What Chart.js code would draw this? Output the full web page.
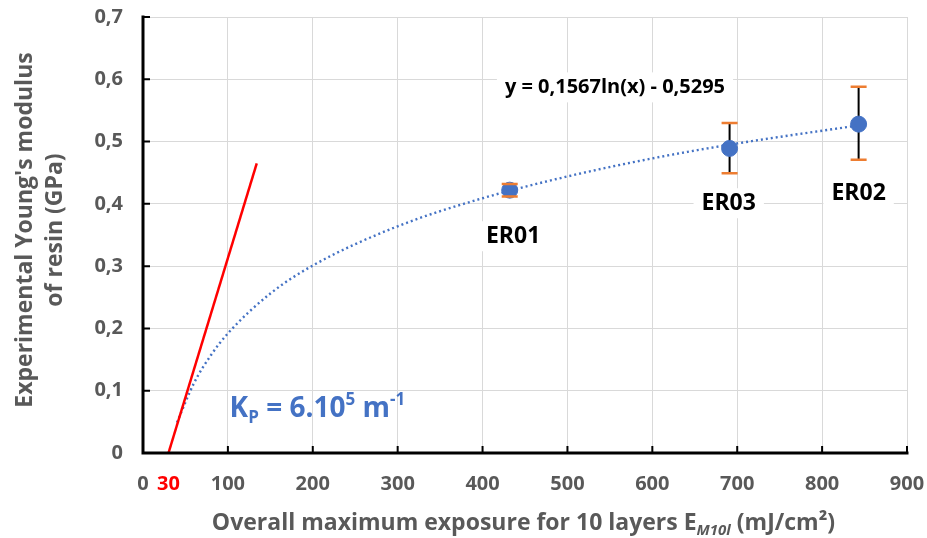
<!DOCTYPE html>
<html>
<head>
    <title>Young's modulus vs exposure</title>
    <script src="https://cdn.jsdelivr.net/npm/chart.js@4.4.1/dist/chart.umd.min.js"></script>
    <style>
        html, body { margin: 0; padding: 0; background: #fff; }
        #wrap { width: 927px; height: 538px; }
    </style>
</head>
<body>
    <div id="wrap"><canvas id="modulusChart"></canvas></div>

    <script>
        // measured samples
        const samples = ['ER01', 'ER03', 'ER02'];
        const exposure = [432, 691, 843];
        const modulus = [0.422, 0.489, 0.528];
        const errLow = [0.412, 0.449, 0.471];
        const errHigh = [0.432, 0.530, 0.588];

        // log trendline
        const trendX = [40, 60, 80, 100, 150, 200, 300, 400, 500, 600, 700, 843];
        const trendY = [0.049, 0.112, 0.157, 0.192, 0.256, 0.301, 0.364, 0.409, 0.444, 0.473, 0.497, 0.526];

        // red tangent at the origin of the curve
        const tangentX = [30, 134];
        const tangentY = [0, 0.465];

        const xTicks = [0, 100, 200, 300, 400, 500, 600, 700, 800, 900];
        const yTicks = [0, 0.1, 0.2, 0.3, 0.4, 0.5, 0.6, 0.7];

        const BLUE = '#4472C4';
        const GREY = '#595959';
        const FONT = '"Open Sans", sans-serif';

        const pts = (xs, ys) => xs.map((x, i) => ({ x: x, y: ys[i] }));

        function boxText(ctx, text, cx, cy, font) {
            ctx.font = font;
            const w = ctx.measureText(text).width;
            ctx.fillStyle = '#fff';
            ctx.fillRect(cx - w / 2 - 8, cy - 15, w + 16, 30);
            ctx.fillStyle = '#000';
            ctx.textAlign = 'center';
            ctx.textBaseline = 'middle';
            ctx.fillText(text, cx, cy);
        }

        // draws pieces of text one after another, with sub/superscripts
        function richText(ctx, parts, x, y) {
            ctx.textAlign = 'left';
            ctx.textBaseline = 'alphabetic';
            parts.forEach(p => {
                ctx.font = p.font;
                ctx.fillStyle = p.color;
                ctx.fillText(p.t, x, y + (p.dy || 0));
                x += ctx.measureText(p.t).width;
            });
            return x;
        }

        function partsWidth(ctx, parts) {
            let w = 0;
            parts.forEach(p => { ctx.font = p.font; w += ctx.measureText(p.t).width; });
            return w;
        }

        function barEnds(chart, i) {
            const xs = chart.scales.x, ys = chart.scales.y;
            return {
                px: xs.getPixelForValue(exposure[i]),
                top: ys.getPixelForValue(errHigh[i]),
                bot: ys.getPixelForValue(errLow[i])
            };
        }

        const errorBars = {
            id: 'errorBars',
            // black stems under the markers
            beforeDatasetsDraw(chart) {
                const ctx = chart.ctx;
                ctx.save();
                ctx.strokeStyle = '#000';
                ctx.lineWidth = 2;
                exposure.forEach((e, i) => {
                    const b = barEnds(chart, i);
                    ctx.beginPath();
                    ctx.moveTo(b.px, b.top); ctx.lineTo(b.px, b.bot);
                    ctx.stroke();
                });
                ctx.restore();
            },
            // orange caps above them
            afterDatasetsDraw(chart) {
                const ctx = chart.ctx;
                ctx.save();
                ctx.strokeStyle = '#ED7D31';
                ctx.lineWidth = 2.5;
                exposure.forEach((e, i) => {
                    const b = barEnds(chart, i);
                    ctx.beginPath();
                    ctx.moveTo(b.px - 8, b.top); ctx.lineTo(b.px + 8, b.top);
                    ctx.moveTo(b.px - 8, b.bot); ctx.lineTo(b.px + 8, b.bot);
                    ctx.stroke();
                });
                ctx.restore();
            }
        };

        const overlay = {
            id: 'overlay',
            afterDraw(chart) {
                const ctx = chart.ctx, xs = chart.scales.x, ys = chart.scales.y;
                const a = chart.chartArea;
                ctx.save();

                // axes with inward ticks
                ctx.strokeStyle = '#000';
                ctx.lineWidth = 3;
                ctx.lineCap = 'square';
                ctx.beginPath();
                ctx.moveTo(a.left, a.top); ctx.lineTo(a.left, a.bottom); ctx.lineTo(a.right, a.bottom);
                ctx.stroke();
                ctx.lineWidth = 2;
                ctx.lineCap = 'butt';
                ctx.beginPath();
                yTicks.forEach(v => {
                    const py = ys.getPixelForValue(v);
                    ctx.moveTo(a.left, py); ctx.lineTo(a.left + 7, py);
                });
                xTicks.forEach(v => {
                    const px = xs.getPixelForValue(v);
                    ctx.moveTo(px, a.bottom); ctx.lineTo(px, a.bottom - 7);
                });
                ctx.stroke();

                // red "30" on the x axis
                ctx.font = 'bold 20px ' + FONT;
                ctx.fillStyle = '#FF0000';
                ctx.textAlign = 'center';
                ctx.textBaseline = 'middle';
                ctx.fillText('30', xs.getPixelForValue(30), a.bottom + 31);

                // equation and sample labels
                boxText(ctx, 'y = 0,1567ln(x) - 0,5295', xs.getPixelForValue(556), ys.getPixelForValue(0.587), 'bold 20px ' + FONT);
                const labelPos = [[436, 0.348], [690, 0.401], [843, 0.417]];
                samples.forEach((s, i) => {
                    boxText(ctx, s, xs.getPixelForValue(labelPos[i][0]), ys.getPixelForValue(labelPos[i][1]), 'bold 23px ' + FONT);
                });

                // Kp annotation
                const big = 'bold 28px ' + FONT, small = 'bold 17px ' + FONT;
                richText(ctx, [
                    { t: 'K', font: big, color: BLUE },
                    { t: 'P', font: small, color: BLUE, dy: 6 },
                    { t: ' = 6.10', font: big, color: BLUE },
                    { t: '5', font: small, color: BLUE, dy: -12 },
                    { t: ' m', font: big, color: BLUE },
                    { t: '-1', font: small, color: BLUE, dy: -12 }
                ], xs.getPixelForValue(102), ys.getPixelForValue(0.058));

                // x axis title with subscript
                const tf = 'bold 23px ' + FONT, sf = 'italic bold 15px ' + FONT;
                const title = [
                    { t: 'Overall maximum exposure for 10 layers E', font: tf, color: GREY },
                    { t: 'M10l', font: sf, color: GREY, dy: 5 },
                    { t: ' (mJ/cm²)', font: tf, color: GREY }
                ];
                const tw = partsWidth(ctx, title);
                richText(ctx, title, 523.5 - tw / 2, 530);

                // y axis title, two lines rotated
                ctx.save();
                ctx.translate(0, 230);
                ctx.rotate(-Math.PI / 2);
                ctx.font = 'bold 23px ' + FONT;
                ctx.fillStyle = GREY;
                ctx.textAlign = 'center';
                ctx.textBaseline = 'middle';
                ctx.fillText("Experimental Young's modulus", 0, 25);
                ctx.fillText('of resin (GPa)', 0, 55);
                ctx.restore();

                ctx.restore();
            }
        };

        const ctx = document.getElementById('modulusChart').getContext('2d');
        const chart = new Chart(ctx, {
            type: 'scatter',
            data: {
                datasets: [
                    {
                        label: 'Tangent',
                        data: pts(tangentX, tangentY),
                        showLine: true,
                        borderColor: '#FF0000',
                        borderWidth: 2.5,
                        pointRadius: 0
                    },
                    {
                        label: 'Trend',
                        data: pts(trendX, trendY),
                        showLine: true,
                        borderColor: BLUE,
                        borderWidth: 2.4,
                        borderDash: [2, 3],
                        cubicInterpolationMode: 'monotone',
                        pointRadius: 0
                    },
                    {
                        label: 'Samples',
                        data: pts(exposure, modulus),
                        backgroundColor: BLUE,
                        borderColor: BLUE,
                        pointRadius: 8
                    }
                ]
            },
            options: {
                responsive: true,
                maintainAspectRatio: false,
                animation: false,
                layout: { padding: { top: 17, right: 20, left: 0, bottom: 0 } },
                plugins: {
                    legend: { display: false },
                    tooltip: { enabled: false }
                },
                scales: {
                    x: {
                        type: 'linear',
                        min: 0, max: 900,
                        afterFit: s => { s.height = 85; s.paddingLeft = 0; s.paddingRight = 0; },
                        afterBuildTicks: s => { s.ticks = xTicks.map(v => ({ value: v })); },
                        grid: { color: '#d9d9d9', lineWidth: 1, drawTicks: false },
                        border: { display: false },
                        ticks: {
                            padding: 19,
                            color: GREY,
                            font: { family: FONT, size: 20, weight: 'bold' },
                            maxRotation: 0
                        }
                    },
                    y: {
                        min: 0, max: 0.7,
                        afterFit: s => { s.width = 143; s.paddingTop = 0; s.paddingBottom = 0; },
                        afterBuildTicks: s => { s.ticks = yTicks.map(v => ({ value: v })); },
                        grid: { color: '#d9d9d9', lineWidth: 1, drawTicks: false },
                        border: { display: false },
                        ticks: {
                            padding: 20,
                            color: GREY,
                            font: { family: FONT, size: 20, weight: 'bold' },
                            callback: v => v === 0 ? '0' : v.toFixed(1).replace('.', ',')
                        }
                    }
                }
            },
            plugins: [errorBars, overlay]
        });
    </script>
</body>
</html>
